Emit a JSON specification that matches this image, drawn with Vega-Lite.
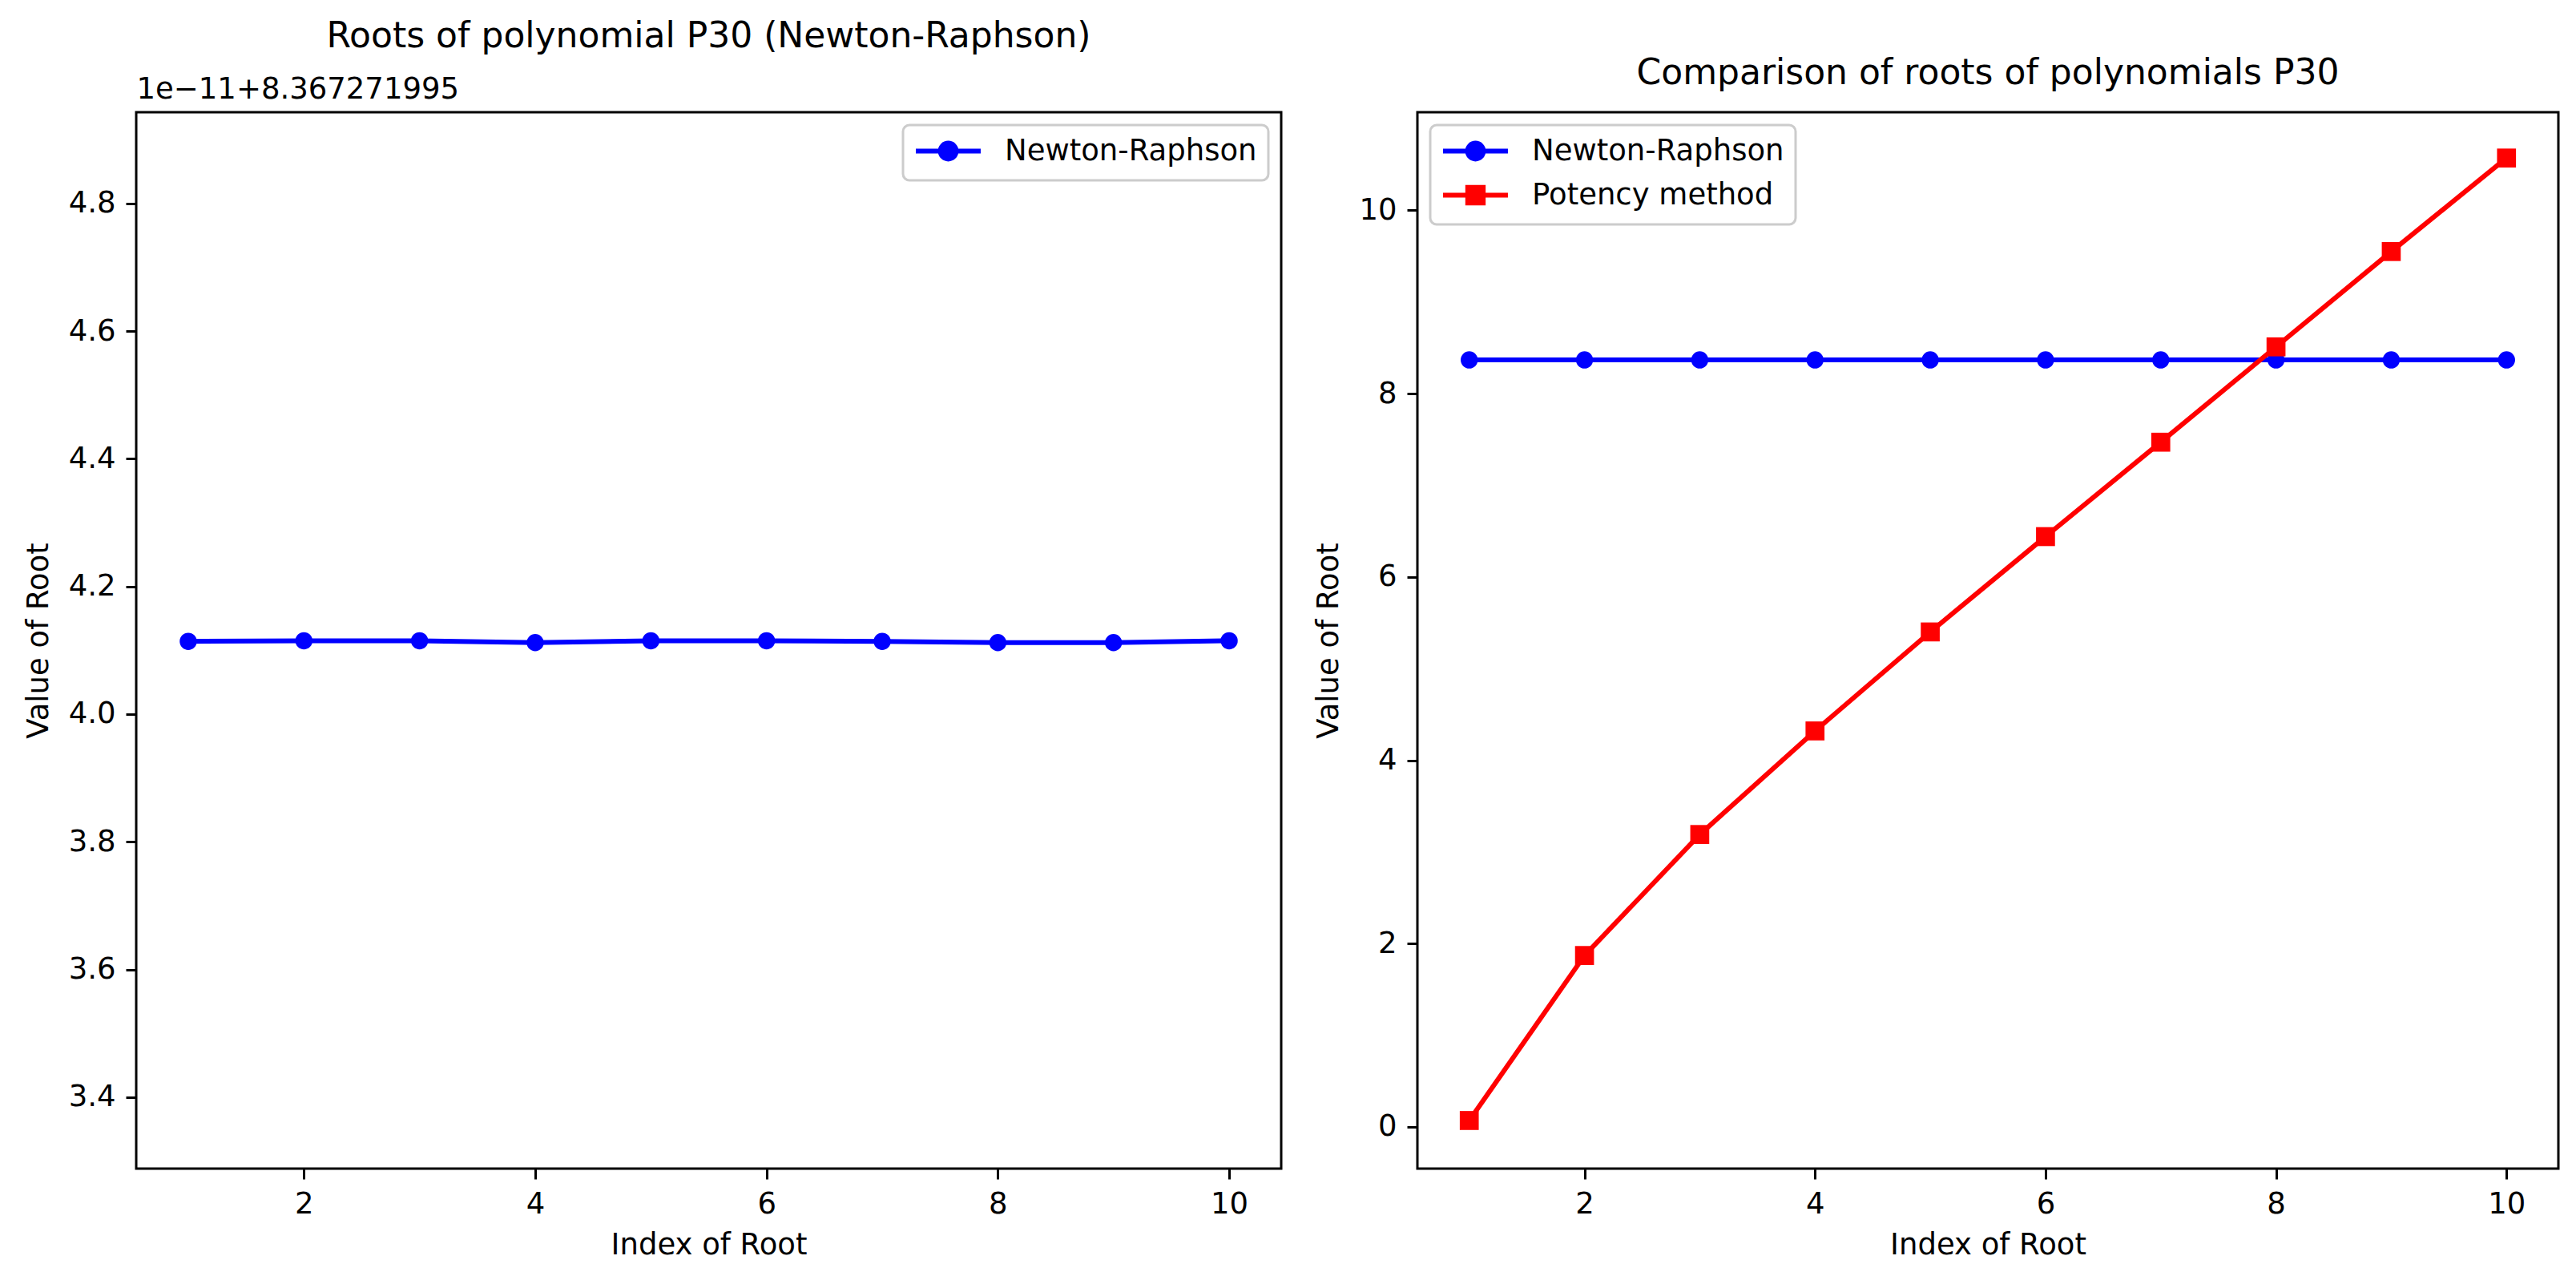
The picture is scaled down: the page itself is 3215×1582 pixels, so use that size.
{
  "$schema": "https://vega.github.io/schema/vega-lite/v6.json",
  "background": "white",
  "padding": {"left": 27, "top": 22, "right": 5, "bottom": 5},
  "config": {
    "font": "DejaVu Sans",
    "view": {"stroke": "#000000", "strokeWidth": 3},
    "axis": {
      "grid": false, "domain": false, "ticks": true, "tickColor": "#000000", "tickSize": 13, "tickWidth": 3,
      "labelFont": "DejaVu Sans", "labelFontSize": 37, "labelColor": "#000000", "labelPadding": 13,
      "titleFont": "DejaVu Sans", "titleFontSize": 37, "titleFontWeight": "normal", "titleColor": "#000000",
      "labelFlush": false, "labelOverlap": false
    },
    "axisX": {"titlePadding": 15},
    "axisY": {"titlePadding": 18},
    "title": {"font": "DejaVu Sans", "fontSize": 44, "fontWeight": "normal", "color": "#000000", "anchor": "middle", "frame": "group", "baseline": "alphabetic"},
    "legend": {
      "labelFont": "DejaVu Sans", "labelFontSize": 37, "labelColor": "#000000", "labelLimit": 0,
      "fillColor": "rgba(255,255,255,0.8)", "strokeColor": "#cccccc", "strokeWidth": 3, "cornerRadius": 8,
      "padding": 14, "offset": 16, "rowPadding": 10, "symbolSize": 484, "symbolStrokeWidth": 6, "labelOffset": 76
    }
  },
  "datasets": {
    "newton_p30": [
      {"index": 1, "method": "Newton-Raphson", "root_offset": 4.114},
      {"index": 2, "method": "Newton-Raphson", "root_offset": 4.115},
      {"index": 3, "method": "Newton-Raphson", "root_offset": 4.115},
      {"index": 4, "method": "Newton-Raphson", "root_offset": 4.112},
      {"index": 5, "method": "Newton-Raphson", "root_offset": 4.115},
      {"index": 6, "method": "Newton-Raphson", "root_offset": 4.115},
      {"index": 7, "method": "Newton-Raphson", "root_offset": 4.114},
      {"index": 8, "method": "Newton-Raphson", "root_offset": 4.112},
      {"index": 9, "method": "Newton-Raphson", "root_offset": 4.112},
      {"index": 10, "method": "Newton-Raphson", "root_offset": 4.115}
    ],
    "comparison_p30": [
      {"index": 1, "method": "Newton-Raphson", "root_value": 8.367271995},
      {"index": 2, "method": "Newton-Raphson", "root_value": 8.367271995},
      {"index": 3, "method": "Newton-Raphson", "root_value": 8.367271995},
      {"index": 4, "method": "Newton-Raphson", "root_value": 8.367271995},
      {"index": 5, "method": "Newton-Raphson", "root_value": 8.367271995},
      {"index": 6, "method": "Newton-Raphson", "root_value": 8.367271995},
      {"index": 7, "method": "Newton-Raphson", "root_value": 8.367271995},
      {"index": 8, "method": "Newton-Raphson", "root_value": 8.367271995},
      {"index": 9, "method": "Newton-Raphson", "root_value": 8.367271995},
      {"index": 10, "method": "Newton-Raphson", "root_value": 8.367271995},
      {"index": 1, "method": "Potency method", "root_value": 0.07},
      {"index": 2, "method": "Potency method", "root_value": 1.87},
      {"index": 3, "method": "Potency method", "root_value": 3.19},
      {"index": 4, "method": "Potency method", "root_value": 4.32},
      {"index": 5, "method": "Potency method", "root_value": 5.40},
      {"index": 6, "method": "Potency method", "root_value": 6.44},
      {"index": 7, "method": "Potency method", "root_value": 7.47},
      {"index": 8, "method": "Potency method", "root_value": 8.51},
      {"index": 9, "method": "Potency method", "root_value": 9.55},
      {"index": 10, "method": "Potency method", "root_value": 10.57}
    ]
  },
  "spacing": 37,
  "resolve": {
    "scale": {"color": "independent", "stroke": "independent", "fill": "independent", "shape": "independent", "size": "independent"},
    "legend": {"color": "independent", "stroke": "independent", "fill": "independent", "shape": "independent", "size": "independent"}
  },
  "hconcat": [
    {
      "width": 1429,
      "height": 1318,
      "title": {"text": "Roots of polynomial P30 (Newton-Raphson)", "offset": 24},
      "data": {"name": "newton_p30"},
      "encoding": {
        "y": {
          "field": "root_offset", "type": "quantitative",
          "scale": {"domain": [3.288, 4.943], "nice": false, "zero": false},
          "axis": {"title": "Value of Root", "values": [3.4, 3.6, 3.8, 4.0, 4.2, 4.4, 4.6, 4.8], "format": ".1f"}
        }
      },
      "layer": [
        {
          "mark": {"type": "line", "strokeWidth": 6, "color": "#0000ff"},
          "encoding": {
            "x": {
              "field": "index", "type": "quantitative",
              "scale": {"domain": [0.55, 10.45], "nice": false, "zero": false},
              "axis": {"title": "Index of Root", "values": [2, 4, 6, 8, 10], "format": "d"}
            }
          }
        },
        {
          "mark": {"type": "point", "filled": true, "opacity": 1, "size": 460, "shape": "circle"},
          "encoding": {
            "x": {"field": "index", "type": "quantitative", "scale": {"domain": [0.55, 10.45], "nice": false, "zero": false}, "axis": null},
            "color": {
              "field": "method", "type": "nominal",
              "scale": {"domain": ["Newton-Raphson"], "range": ["#0000ff"]},
              "legend": {
                "orient": "top-right", "title": null,
                "symbolType": "M -1.5 0 L 5.86 0 M 1.28 0 A 0.9 0.9 0 1 0 3.08 0 A 0.9 0.9 0 1 0 1.28 0 Z",
                "symbolStrokeColor": "#0000ff"
              }
            }
          }
        },
        {
          "mark": {"type": "point", "opacity": 0},
          "encoding": {
            "x": {
              "field": "index", "type": "quantitative",
              "scale": {"domain": [0.55, 10.45], "nice": false, "zero": false},
              "axis": {"orient": "top", "title": "1e\u221211+8.367271995", "labels": false, "ticks": false, "domain": false, "titleAnchor": "start", "titleAlign": "left", "titleBaseline": "alphabetic", "titlePadding": 18}
            }
          }
        }
      ],
      "resolve": {"axis": {"x": "independent"}}
    },
    {
      "width": 1424,
      "height": 1318,
      "title": {"text": "Comparison of roots of polynomials P30", "offset": 26},
      "data": {"name": "comparison_p30"},
      "encoding": {
        "x": {
          "field": "index", "type": "quantitative",
          "scale": {"domain": [0.55, 10.45], "nice": false, "zero": false},
          "axis": {"title": "Index of Root", "values": [2, 4, 6, 8, 10], "format": "d"}
        },
        "y": {
          "field": "root_value", "type": "quantitative",
          "scale": {"domain": [-0.455, 11.07], "nice": false, "zero": false},
          "axis": {"title": "Value of Root", "values": [0, 2, 4, 6, 8, 10], "format": "d"}
        }
      },
      "layer": [
        {
          "transform": [{"filter": "datum.method === 'Newton-Raphson'"}],
          "mark": {"type": "line", "strokeWidth": 6, "color": "#0000ff"}
        },
        {
          "transform": [{"filter": "datum.method === 'Potency method'"}],
          "mark": {"type": "line", "strokeWidth": 6, "color": "#ff0000"}
        },
        {
          "transform": [{"filter": "datum.method === 'Newton-Raphson'"}],
          "mark": {"type": "point", "filled": true, "opacity": 1, "size": 460, "shape": "circle", "color": "#0000ff"}
        },
        {
          "transform": [{"filter": "datum.method === 'Potency method'"}],
          "mark": {"type": "point", "filled": true, "opacity": 1, "size": 560, "shape": "square", "color": "#ff0000"}
        },
        {
          "mark": {"type": "point", "filled": true, "opacity": 0, "size": 484},
          "encoding": {
            "fill": {
              "field": "method", "type": "nominal",
              "scale": {"domain": ["Newton-Raphson", "Potency method"], "range": ["#0000ff", "#ff0000"]},
              "legend": {"orient": "top-left", "title": null, "symbolOpacity": 1}
            },
            "stroke": {
              "field": "method", "type": "nominal",
              "scale": {"domain": ["Newton-Raphson", "Potency method"], "range": ["#0000ff", "#ff0000"]},
              "legend": {"orient": "top-left", "title": null, "symbolOpacity": 1}
            },
            "shape": {
              "field": "method", "type": "nominal",
              "scale": {
                "domain": ["Newton-Raphson", "Potency method"],
                "range": [
                  "M -1.5 0 L 5.86 0 M 1.28 0 A 0.9 0.9 0 1 0 3.08 0 A 0.9 0.9 0 1 0 1.28 0 Z",
                  "M -1.5 0 L 5.86 0 M 1.3 -0.88 L 3.06 -0.88 L 3.06 0.88 L 1.3 0.88 Z"
                ]
              },
              "legend": {"orient": "top-left", "title": null, "symbolOpacity": 1}
            }
          }
        }
      ]
    }
  ]
}
